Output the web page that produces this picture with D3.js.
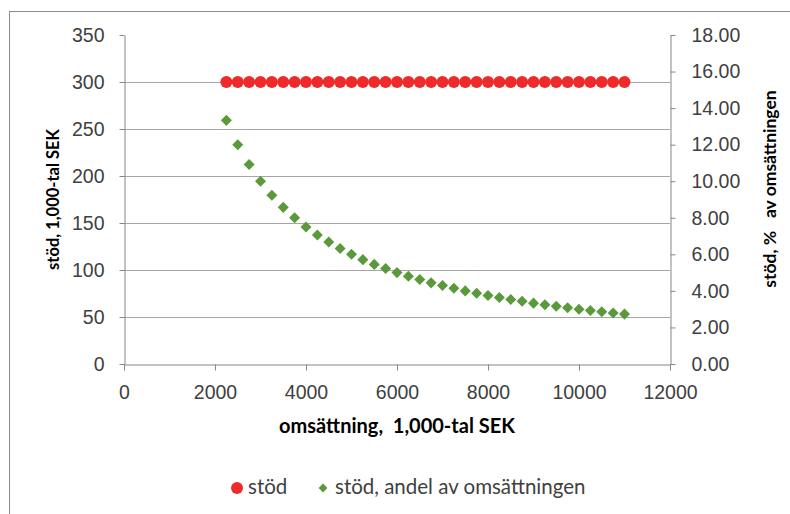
<!DOCTYPE html>
<html>
<head>
<meta charset="utf-8">
<script src="https://cdn.jsdelivr.net/npm/d3@7"></script>
<style>
  html, body { margin: 0; padding: 0; background: #fff; }
  svg { display: block; font-family: Lato, "Open Sans", sans-serif; }
</style>
</head>
<body>
<svg id="chart" width="790" height="514"></svg>
<script>
// Turnover (1,000 SEK) for each point
const omsattning = [2250, 2500, 2750, 3000, 3250, 3500, 3750, 4000, 4250, 4500, 4750, 5000,
  5250, 5500, 5750, 6000, 6250, 6500, 6750, 7000, 7250, 7500, 7750, 8000,
  8250, 8500, 8750, 9000, 9250, 9500, 9750, 10000, 10250, 10500, 10750, 11000];
// Support amount (1,000 SEK)
const stod = [300, 300, 300, 300, 300, 300, 300, 300, 300, 300, 300, 300,
  300, 300, 300, 300, 300, 300, 300, 300, 300, 300, 300, 300,
  300, 300, 300, 300, 300, 300, 300, 300, 300, 300, 300, 300];
// Support as share of turnover (%)
const stodAndel = [13.33, 12.00, 10.91, 10.00, 9.23, 8.57, 8.00, 7.50, 7.06, 6.67, 6.32, 6.00,
  5.71, 5.45, 5.22, 5.00, 4.80, 4.62, 4.44, 4.29, 4.14, 4.00, 3.87, 3.75,
  3.64, 3.53, 3.43, 3.33, 3.24, 3.16, 3.08, 3.00, 2.93, 2.86, 2.79, 2.73];

const xTicks = [0, 2000, 4000, 6000, 8000, 10000, 12000];
const yLeftTicks = [0, 50, 100, 150, 200, 250, 300, 350];
const yRightTicks = [0, 2, 4, 6, 8, 10, 12, 14, 16, 18];
const seriesNames = ["stöd", "stöd, andel av omsättningen"];

const svg = d3.select("#chart");
const plot = { left: 124, right: 670, top: 35, bottom: 364 };
const red = "#ee2a2a", green = "#5b9a3b";
const axisColor = "#868686", gridColor = "#a6a6a6", textColor = "#404040";

// outer frame
svg.append("rect")
  .attr("x", 9.5).attr("y", 11.5).attr("width", 800).attr("height", 520)
  .attr("fill", "none").attr("stroke", "#8c8c8c").attr("stroke-width", 1);

const x = d3.scaleLinear().domain([0, 12000]).range([plot.left, plot.right]);
const yL = d3.scaleLinear().domain([0, 350]).range([plot.bottom, plot.top]);
const yR = d3.scaleLinear().domain([0, 18]).range([plot.bottom, plot.top]);

// horizontal gridlines
svg.append("g").selectAll("line")
  .data(yLeftTicks.filter(v => v > 0 && v < 350))
  .join("line")
  .attr("x1", plot.left).attr("x2", plot.right)
  .attr("y1", d => Math.round(yL(d)) + 0.5).attr("y2", d => Math.round(yL(d)) + 0.5)
  .attr("stroke", gridColor).attr("stroke-width", 1);

function styleAxis(g) {
  g.select(".domain").attr("stroke", axisColor);
  g.selectAll(".tick line").attr("stroke", axisColor);
  g.selectAll(".tick text").attr("fill", textColor).attr("font-size", 19.5);
}

// x axis
svg.append("g")
  .attr("transform", `translate(0,${plot.bottom + 0.5})`)
  .call(d3.axisBottom(x).tickValues(xTicks).tickFormat(d3.format("d")).tickSize(6).tickSizeOuter(0).tickPadding(15))
  .call(styleAxis);

// left axis
svg.append("g")
  .attr("transform", `translate(${plot.left + 0.5},0)`)
  .call(d3.axisLeft(yL).tickValues(yLeftTicks).tickFormat(d3.format("d")).tickSize(5).tickSizeOuter(0).tickPadding(15))
  .call(styleAxis);

// right axis
svg.append("g")
  .attr("transform", `translate(${plot.right + 0.5},0)`)
  .call(d3.axisRight(yR).tickValues(yRightTicks).tickFormat(d3.format(".2f")).tickSize(5).tickSizeOuter(0).tickPadding(16))
  .call(styleAxis);

// axis titles
svg.append("text")
  .attr("transform", `translate(59,${(plot.top + plot.bottom) / 2}) rotate(-90)`)
  .attr("text-anchor", "middle").attr("font-size", 16.5).attr("font-weight", "bold").attr("fill", "#000")
  .text("stöd, 1,000-tal SEK");
svg.append("text")
  .attr("transform", `translate(776,189) rotate(-90)`)
  .attr("text-anchor", "middle").attr("font-size", 17.5).attr("font-weight", "bold").attr("fill", "#000")
  .attr("xml:space", "preserve")
  .text("stöd, %   av omsättningen");
svg.append("text")
  .attr("x", (plot.left + plot.right) / 2).attr("y", 433)
  .attr("text-anchor", "middle").attr("font-size", 20).attr("font-weight", "bold").attr("fill", "#000")
  .attr("xml:space", "preserve")
  .text("omsättning,  1,000-tal SEK");

// series: support amount (circles)
svg.append("g").selectAll("circle")
  .data(omsattning.map((o, i) => ({ o, v: stod[i] })))
  .join("circle")
  .attr("cx", d => x(d.o)).attr("cy", d => yL(d.v)).attr("r", 6)
  .attr("fill", red);

// series: share of turnover (diamonds)
const diamond = d3.symbol().type(d3.symbolDiamond2).size(78);
svg.append("g").selectAll("path")
  .data(omsattning.map((o, i) => ({ o, v: stodAndel[i] })))
  .join("path")
  .attr("transform", d => `translate(${x(d.o)},${yR(d.v)})`)
  .attr("d", diamond)
  .attr("fill", green);

// legend
const legend = svg.append("g").attr("font-size", 20.5).attr("fill", textColor);
legend.append("circle").attr("cx", 237).attr("cy", 488).attr("r", 6).attr("fill", red);
legend.append("text").attr("x", 248).attr("y", 494).attr("fill", textColor).text(seriesNames[0]);
legend.append("path").attr("transform", "translate(323,488)")
  .attr("d", d3.symbol().type(d3.symbolDiamond2).size(50)).attr("fill", green);
legend.append("text").attr("x", 335).attr("y", 494).attr("fill", textColor).text(seriesNames[1]);
</script>
</body>
</html>
